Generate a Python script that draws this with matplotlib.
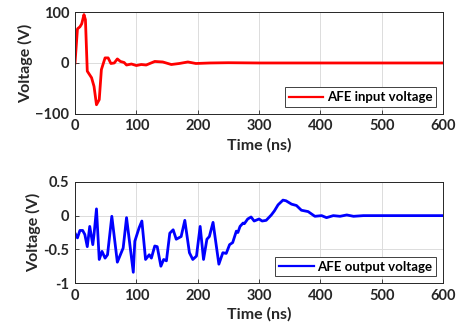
import matplotlib
matplotlib.use("Agg")
import matplotlib.pyplot as plt

plt.rcParams['font.family'] = ['Lato', 'DejaVu Sans']
plt.rcParams['font.weight'] = 'bold'

# AFE input voltage (V) vs time (ns)
t_in = [0, 4, 8, 11, 14.6, 17, 20, 27, 31, 35, 39.5, 43, 49, 54, 58.5, 64, 69, 74, 80, 84,
        92, 100, 108, 116, 130, 143, 157, 170, 184, 197, 220, 250, 300, 400, 500, 600]
v_in = [0, 67, 71, 77, 95, 85, -16, -29, -46, -82, -72, -13, 10, 10, -1, 0, 8, 3, 1, -4,
        -2, -5, -3, -4, 3, 2, -3, -1, 2, -1, 0, 0.5, 0, 0, 0, 0]

# AFE output voltage (V) vs time (ns)
t_out = [0, 4, 8, 12.5, 16, 20, 24, 29, 31, 35, 39.5, 44, 49, 53, 60, 69, 78.5, 84, 95, 97.5,
         104.5, 109, 115, 121, 124.5, 130, 134, 140, 144.5, 149, 154.5, 160, 165, 173, 179,
         186.5, 192, 198, 204, 209.5, 215, 219, 225, 234.5, 241, 246.5, 252, 257, 263, 265.5,
         269, 274, 276, 281.5, 287, 292, 300, 305, 311.6, 320, 325, 331, 339, 344, 353, 361,
         369, 380, 391, 402, 410, 421, 432, 443, 454, 470, 500, 550, 600]
v_out = [-0.26, -0.33, -0.22, -0.22, -0.28, -0.46, -0.16, -0.43, -0.28, 0.10, -0.65, -0.53,
         -0.63, -0.58, -0.01, -0.69, -0.48, -0.03, -0.84, -0.38, -0.18, -0.08, -0.65, -0.58,
         -0.63, -0.45, -0.46, -0.75, -0.65, -0.67, -0.26, -0.21, -0.35, -0.31, -0.07, -0.55,
         -0.65, -0.60, -0.16, -0.65, -0.35, -0.31, -0.10, -0.72, -0.55, -0.56, -0.43, -0.40,
         -0.23, -0.25, -0.16, -0.11, -0.12, -0.05, -0.02, -0.08, -0.05, -0.08, -0.07, 0.01,
         0.07, 0.16, 0.23, 0.22, 0.17, 0.15, 0.08, 0.06, -0.01, 0, -0.03, 0, -0.01, 0.01,
         -0.01, 0, 0, 0, 0]

txt = '#262626'
fig = plt.figure(figsize=(4.63, 3.35), dpi=100)
ax1 = fig.add_axes([0.162, 0.660, 0.795, 0.304])
ax2 = fig.add_axes([0.162, 0.155, 0.795, 0.302])

def style(ax):
    ax.set_xlim(0, 600)
    ax.set_xticks([0, 100, 200, 300, 400, 500, 600])
    ax.grid(True, color='#dcdcdc', linewidth=0.7)
    ax.set_axisbelow(True)
    for s in ax.spines.values():
        s.set_color('#262626')
        s.set_linewidth(0.7)
    ax.tick_params(direction='in', length=3, width=0.6, colors=txt, labelsize=10.5, pad=4)
    for lab in ax.get_xticklabels() + ax.get_yticklabels():
        lab.set_fontweight('bold')
    ax.set_xlabel('Time (ns)', fontsize=11.5, fontweight='bold', color=txt, labelpad=3)
    ax.set_ylabel('Voltage (V)', fontsize=11.5, fontweight='bold', color=txt, labelpad=2)

ax1.plot(t_in, v_in, color='#ff0000', linewidth=2, label='AFE input voltage')
ax1.set_ylim(-100, 100)
ax1.set_yticks([-100, 0, 100])
style(ax1)

ax2.plot(t_out, v_out, color='#0000ff', linewidth=2, label='AFE output voltage')
ax2.set_ylim(-1, 0.5)
ax2.set_yticks([-1, -0.5, 0, 0.5])
ax2.set_yticklabels(['-1', '-0.5', '0', '0.5'])
style(ax2)

for ax in (ax1, ax2):
    leg = ax.legend(loc='lower right', fancybox=False, framealpha=1, edgecolor='#404040',
                    prop={'weight': 'bold', 'size': 9.5}, handlelength=2.6, borderaxespad=0.5,
                    borderpad=0.3, handletextpad=0.3)
    leg.get_frame().set_linewidth(0.7)
    leg.get_lines()[0].set_linewidth(1.6)
    for t in leg.get_texts():
        t.set_color('black')

fig.savefig('out.png', dpi=100)
